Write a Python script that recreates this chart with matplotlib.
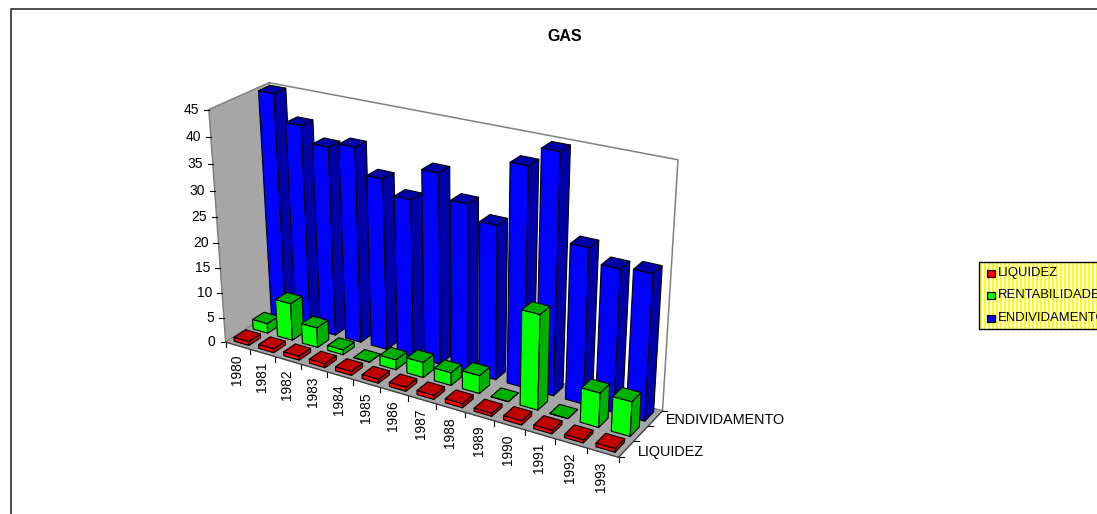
#!/usr/bin/env python3
"""GAS: 3D column chart drawn with a small perspective projection."""

import matplotlib

matplotlib.use("Agg")
import matplotlib.pyplot as plt
import numpy as np
from matplotlib.patches import Polygon, Rectangle

plt.rcParams["font.family"] = ["Liberation Sans", "DejaVu Sans"]

YEARS = [str(y) for y in range(1980, 1994)]
SERIES = ["LIQUIDEZ", "RENTABILIDADE", "ENDIVIDAMENTO"]
LIQUIDEZ = [0.8, 0.8, 0.8, 0.8, 0.8, 0.8, 0.8, 0.8, 0.8, 0.6, 0.8, 0.7, 0.6, 0.7]
RENTABILIDADE = [2.0, 7.5, 4.0, 1.0, 0.05, 2.0, 3.0, 2.5, 3.5, 0.05, 18.0, 0.05, 6.5, 6.5]
ENDIVIDAMENTO = [45, 40, 37, 38, 33.2, 30.5, 36.5, 32, 29.3, 41, 44.5, 29, 26.5, 27]
Z_TICKS = list(range(0, 50, 5))
Z_MAX = 45

FRONT = ["#ff0000", "#00ff00", "#0000ff"]
SHADE = ["#c00000", "#00b000", "#0000a8"]
WALL = "#a6a6a6"
BAR_WIDTH = 0.6
BAR_DEPTH = 0.62

# pixel positions of the plot box corners: (u, v, w) -> (px, py)
CUBE = [
    ((0, 0, 0), (226, 342)),
    ((1, 0, 0), (618, 458)),
    ((1, 1, 0), (663, 410)),
    ((0, 1, 0), (281, 307)),
    ((0, 0, 1), (209, 109)),
    ((0, 1, 1), (269, 83)),
    ((1, 1, 1), (678, 160)),
]


def fit_camera():
    rows = []
    for (u, v, w), (px, py) in CUBE:
        p = [u, v, w, 1]
        rows.append(p + [0, 0, 0, 0] + [-px * c for c in p])
        rows.append([0, 0, 0, 0] + p + [-py * c for c in p])
    return np.linalg.svd(np.array(rows, float))[2][-1].reshape(3, 4)


CAMERA = fit_camera()


def project(u, v, w):
    x, y, s = CAMERA @ np.array([u, v, w, 1.0])
    return x / s, y / s


def face(ax, corners, color, edge="black", lw=0.8, z=2):
    ax.add_patch(Polygon([project(*c) for c in corners], closed=True, facecolor=color,
                         edgecolor=edge, linewidth=lw, joinstyle="round", zorder=z))


def draw_bar(ax, i, s, value):
    n = len(YEARS)
    m = len(SERIES)
    u0 = (i + 0.5 - BAR_WIDTH / 2) / n
    u1 = (i + 0.5 + BAR_WIDTH / 2) / n
    v0 = (s + 0.5 - BAR_DEPTH / 2) / m
    v1 = (s + 0.5 + BAR_DEPTH / 2) / m
    w = value / Z_MAX
    face(ax, [(u0, v0, 0), (u1, v0, 0), (u1, v0, w), (u0, v0, w)], FRONT[s])
    face(ax, [(u1, v0, 0), (u1, v1, 0), (u1, v1, w), (u1, v0, w)], SHADE[s])
    face(ax, [(u0, v0, w), (u1, v0, w), (u1, v1, w), (u0, v1, w)], SHADE[s])


def draw_box(ax):
    axis_col = "#404040"
    face(ax, [(0, 1, 0), (1, 1, 0), (1, 1, 1), (0, 1, 1)], "white", edge="#808080", lw=1.1, z=1)
    face(ax, [(0, 0, 0), (0, 1, 0), (0, 1, 1), (0, 0, 1)], WALL, edge="#808080", lw=1.1, z=1)
    face(ax, [(0, 0, 0), (1, 0, 0), (1, 1, 0), (0, 1, 0)], WALL, edge="#808080", lw=0.8, z=1)

    for t in Z_TICKS:
        x, y = project(0, 0, t / Z_MAX)
        ax.plot([x - 5, x], [y, y], color="black", lw=0.8, zorder=1)
        ax.text(x - 10, y, str(t), ha="right", va="center", fontsize=10)

    n = len(YEARS)
    for i in range(n + 1):
        x, y = project(i / n, 0, 0)
        ax.plot([x, x], [y, y + 5], color="black", lw=0.8, zorder=1)
    for i, year in enumerate(YEARS):
        x, y = project((i + 0.5) / n, 0, 0)
        ax.text(x - 1, y + 9, year, rotation=90, ha="center", va="top", fontsize=9.9)

    m = len(SERIES)
    for s in range(m + 1):
        x, y = project(1, s / m, 0)
        ax.plot([x, x + 5], [y, y], color="black", lw=0.8, zorder=1)
    for s, dx, dy in ((0, 12, 2.5), (2, 10, 2)):
        x, y = project(1, (s + 0.5) / m, 0)
        ax.text(x + dx, y + dy, SERIES[s], ha="left", va="center", fontsize=10.4)
    ax.plot(*zip(project(0, 0, 0), project(1, 0, 0)), color=axis_col, lw=0.9, zorder=1)
    ax.plot(*zip(project(1, 0, 0), project(1, 1, 0)), color=axis_col, lw=0.9, zorder=1)


def draw_legend(ax):
    ax.add_patch(Rectangle((979, 262), 130, 67, facecolor="#ffff00", edgecolor="none", zorder=3))
    for x in range(982, 1100, 4):
        ax.add_patch(Rectangle((x, 262), 2, 67, facecolor="white", edgecolor="none", zorder=3))
    ax.add_patch(Rectangle((979, 262), 130, 67, facecolor="none", edgecolor="black", lw=1, zorder=4))
    for s, name in enumerate(SERIES):
        y = 273 + s * 22.5
        ax.add_patch(Rectangle((987, y - 3.5), 8, 7, facecolor=FRONT[s], edgecolor="black", lw=0.9, zorder=4))
        ax.text(998, y, name, ha="left", va="center", fontsize=9.4, zorder=5)


def main():
    fig = plt.figure(figsize=(10.97, 5.14), dpi=100)
    ax = fig.add_axes([0, 0, 1, 1])
    ax.set_xlim(0, 1097)
    ax.set_ylim(514, 0)
    ax.axis("off")

    ax.plot([11, 11, 1097], [514, 9, 9], color="#303030", lw=1.2)
    ax.text(565, 36.5, "GAS", ha="center", va="center", fontsize=11.5, fontweight="bold")

    draw_box(ax)
    values = [LIQUIDEZ, RENTABILIDADE, ENDIVIDAMENTO]
    for s in (2, 1, 0):
        for i in range(len(YEARS)):
            draw_bar(ax, i, s, values[s][i])
    draw_legend(ax)

    fig.savefig("out.png", dpi=100)
    plt.close(fig)


if __name__ == "__main__":
    main()
